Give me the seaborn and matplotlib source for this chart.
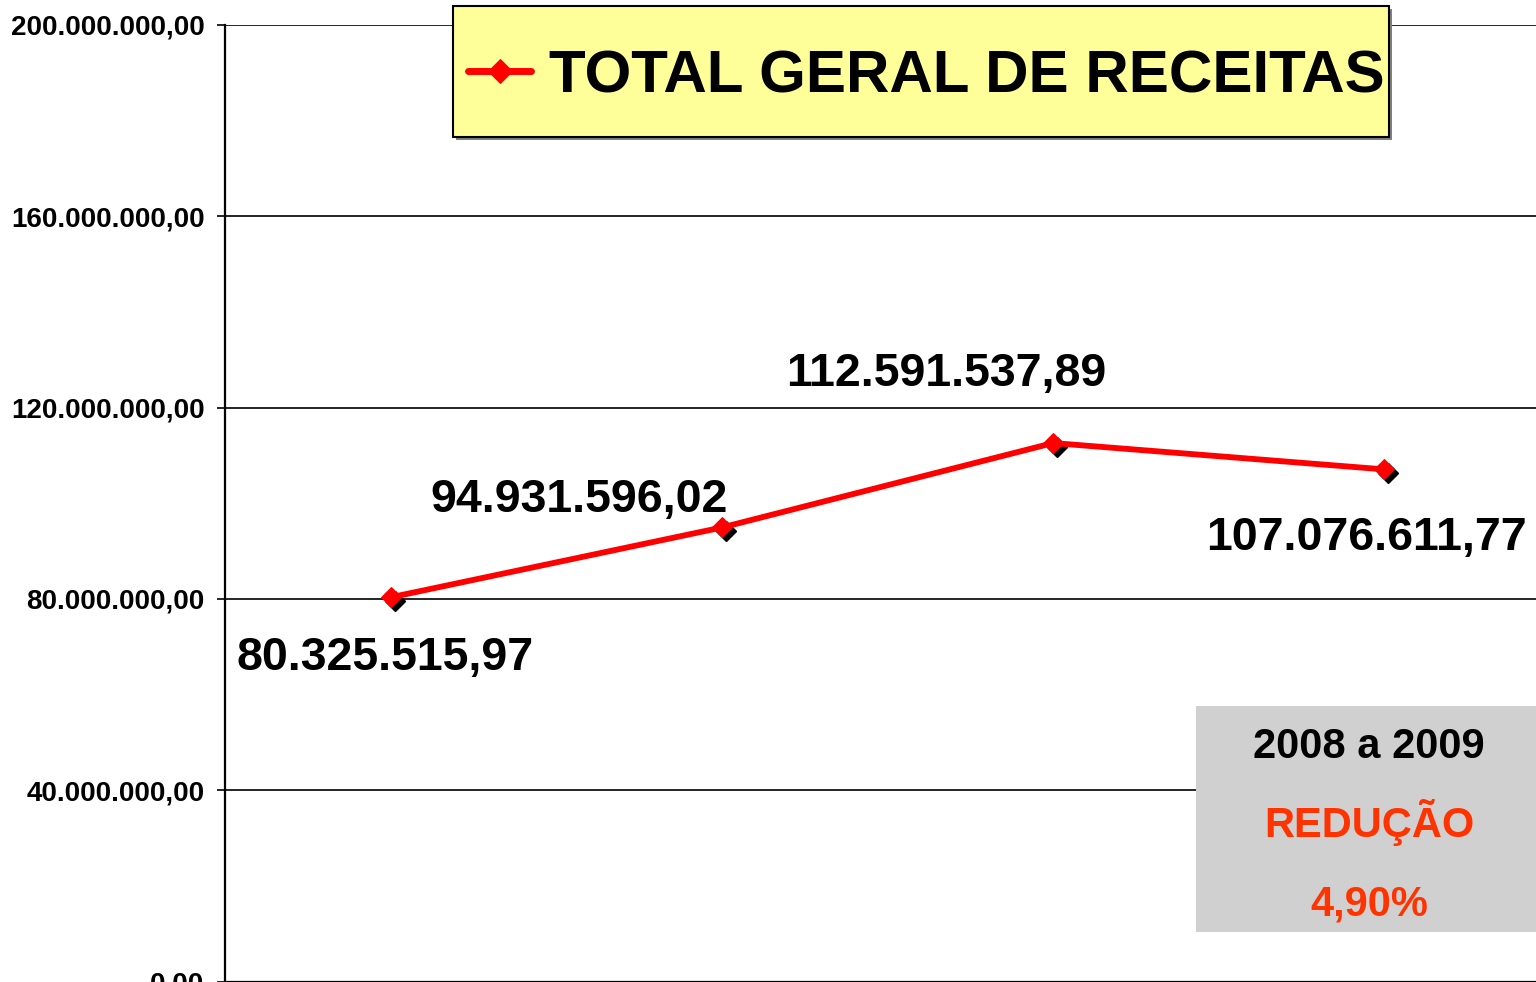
import matplotlib
matplotlib.use('Agg')
import numpy as np
import pandas as pd
import matplotlib.pyplot as plt
import seaborn as sns
from matplotlib.patches import Rectangle
from matplotlib.ticker import FuncFormatter, MultipleLocator
from matplotlib.transforms import ScaledTranslation

# Data
anos = ['2006', '2007', '2008', '2009']
receitas = [80325515.97, 94931596.02, 112591537.89, 107076611.77]
serie = 'TOTAL GERAL DE RECEITAS'
periodo = '2008 a 2009'
variacao = 'REDUÇÃO'
percentual = '4,90%'

# label offsets (pixels) from each point to text centre/baseline
label_offsets = [(-6, -73), (-143, 15), (-107, 57), (-18, -81)]


def fmt_br(v, pos=None):
    """Brazilian number format: 1.234.567,89"""
    s = f"{v:,.2f}"
    return s.replace(',', 'X').replace('.', ',').replace('X', '.')


df = pd.DataFrame({'pos': np.arange(len(anos)), 'ano': anos, 'receita': receitas})

sns.set_style('white')
plt.rcParams['font.family'] = ['Liberation Sans', 'DejaVu Sans']
plt.rcParams['font.weight'] = 'bold'
plt.rcParams['text.color'] = 'black'

fig = plt.figure(figsize=(15.36, 9.82), dpi=100)
ax = fig.add_axes([225 / 1536, 0.5 / 982, 1325 / 1536, 956.5 / 982])

# marker shadows
shadow = ax.transData + ScaledTranslation(0.04, -0.04, fig.dpi_scale_trans)
ax.plot(df['pos'], df['receita'], linestyle='none', marker='D', markersize=10,
        color='black', transform=shadow, zorder=2)

sns.lineplot(data=df, x='pos', y='receita', ax=ax, color='red', linewidth=4.2,
             marker='D', markersize=10, markeredgecolor='red', label=serie,
             zorder=3)

ax.set_xlim(-0.5, len(anos) - 0.5)
ax.set_ylim(0, 200000000)
ax.yaxis.set_major_locator(MultipleLocator(40000000))
ax.yaxis.set_major_formatter(FuncFormatter(fmt_br))
ax.set_xticks(df['pos'])
ax.set_xticklabels(anos)
ax.tick_params(axis='x', bottom=False, labelbottom=False)
ax.tick_params(axis='y', left=True, length=5.8, width=1.2, direction='out',
               pad=9, labelsize=20, colors='black')
for lab in ax.get_yticklabels():
    lab.set_fontweight('bold')
ax.set_xlabel('')
ax.set_ylabel('')
ax.yaxis.grid(True, color='black', linewidth=1.2)
ax.xaxis.grid(False)
for side in ['top', 'right']:
    ax.spines[side].set_visible(False)
ax.spines['left'].set_linewidth(1.6)
ax.spines['left'].set_color('black')
ax.spines['bottom'].set_linewidth(1.6)
ax.spines['bottom'].set_color('black')

# data labels
for x, y, (dx, dy) in zip(df['pos'], df['receita'], label_offsets):
    ax.annotate(fmt_br(y), (x, y), xytext=(dx, dy), textcoords='offset pixels',
                ha='center', va='baseline', fontsize=33.5, fontweight='bold',
                color='black', zorder=6)

# legend box (yellow)
ax.add_patch(Rectangle((456 / 1536, 1 - 140 / 982), 936 / 1536, 131 / 982,
                       transform=fig.transFigure, facecolor='#808080',
                       edgecolor='none', clip_on=False, zorder=4))
ax.add_patch(Rectangle((453 / 1536, 1 - 137 / 982), 936 / 1536, 131 / 982,
                       transform=fig.transFigure, facecolor='#FFFF99',
                       edgecolor='black', linewidth=1.5, clip_on=False, zorder=4))
leg = ax.legend(loc='center left', bbox_to_anchor=(468 / 1536, 1 - 77 / 982),
                bbox_transform=fig.transFigure, frameon=False, borderpad=0,
                borderaxespad=0, handlelength=1.05, handletextpad=0.3,
                prop={'size': 43.3, 'weight': 'bold'})
leg.set_zorder(5)
for t in leg.get_texts():
    t.set_color('black')
for h in leg.legend_handles:
    h.set_linewidth(5)
    h.set_markersize(12)

# grey note box
ax.add_patch(Rectangle((0.7328, 0.0518), 0.2672, 0.2362, transform=ax.transAxes,
                       facecolor='#D0D0D0', edgecolor='none', clip_on=False,
                       zorder=4))
ax.text(0.8634, 0.2337, periodo, transform=ax.transAxes, ha='center',
        va='baseline', fontsize=30, fontweight='bold', color='black', zorder=6)
ax.text(0.8634, 0.1511, variacao, transform=ax.transAxes, ha='center',
        va='baseline', fontsize=30, fontweight='bold', color='#FF3300', zorder=6)
ax.text(0.8634, 0.0695, percentual, transform=ax.transAxes, ha='center',
        va='baseline', fontsize=30, fontweight='bold', color='#FF3300', zorder=6)

fig.savefig('out.png', dpi=100)
